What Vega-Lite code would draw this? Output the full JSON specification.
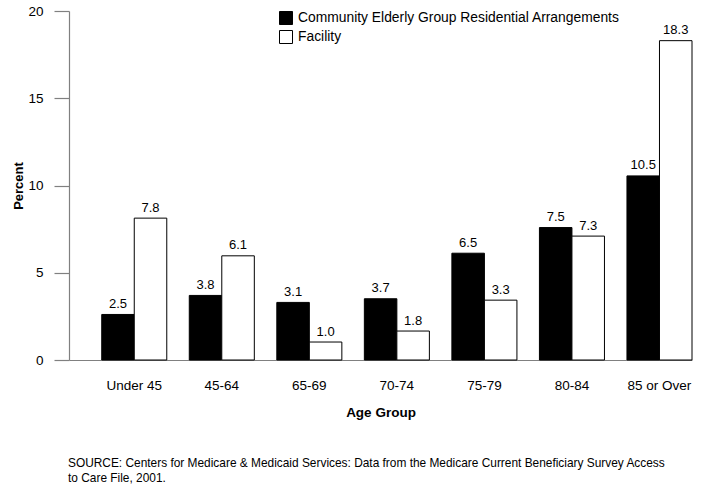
{
  "$schema": "https://vega.github.io/schema/vega-lite/v6.json",
  "width": 623,
  "height": 349,
  "autosize": {"type": "none"},
  "padding": {"left": 69, "top": 11, "right": 10, "bottom": 129},
  "background": "white",
  "config": {
    "view": {"stroke": null},
    "font": "Liberation Sans"
  },
  "title": {
    "text": ["SOURCE: Centers for Medicare & Medicaid Services: Data from the Medicare Current Beneficiary Survey Access", "to Care File, 2001."],
    "orient": "bottom",
    "anchor": "start",
    "frame": "group",
    "font": "Liberation Sans",
    "fontSize": 11.9,
    "fontWeight": "normal",
    "color": "black",
    "lineHeight": 15,
    "offset": 39,
    "dx": -1
  },
  "data": {
    "values": [
      {"age": "Under 45", "series": "Community Elderly Group Residential Arrangements", "value": 2.61, "label": "2.5"},
      {"age": "Under 45", "series": "Facility", "value": 8.13, "label": "7.8"},
      {"age": "45-64", "series": "Community Elderly Group Residential Arrangements", "value": 3.70, "label": "3.8"},
      {"age": "45-64", "series": "Facility", "value": 5.97, "label": "6.1"},
      {"age": "65-69", "series": "Community Elderly Group Residential Arrangements", "value": 3.30, "label": "3.1"},
      {"age": "65-69", "series": "Facility", "value": 1.03, "label": "1.0"},
      {"age": "70-74", "series": "Community Elderly Group Residential Arrangements", "value": 3.51, "label": "3.7"},
      {"age": "70-74", "series": "Facility", "value": 1.66, "label": "1.8"},
      {"age": "75-79", "series": "Community Elderly Group Residential Arrangements", "value": 6.12, "label": "6.5"},
      {"age": "75-79", "series": "Facility", "value": 3.43, "label": "3.3"},
      {"age": "80-84", "series": "Community Elderly Group Residential Arrangements", "value": 7.59, "label": "7.5"},
      {"age": "80-84", "series": "Facility", "value": 7.10, "label": "7.3"},
      {"age": "85 or Over", "series": "Community Elderly Group Residential Arrangements", "value": 10.55, "label": "10.5"},
      {"age": "85 or Over", "series": "Facility", "value": 18.3, "label": "18.3"}
    ]
  },
  "encoding": {
    "x": {
      "field": "age",
      "type": "nominal",
      "sort": ["Under 45", "45-64", "65-69", "70-74", "75-79", "80-84", "85 or Over"],
      "scale": {"paddingInner": 0.257, "paddingOuter": 0.187, "align": 1},
      "axis": {
        "title": "Age Group",
        "labelAngle": 0,
        "ticks": false,
        "labelPadding": 18,
        "labelFont": "Liberation Sans",
        "labelFontSize": 13.5,
        "labelColor": "black",
        "domainColor": "#808080",
        "domainWidth": 1.2,
        "titleFont": "Liberation Sans",
        "titleFontSize": 13.5,
        "titleFontWeight": "bold",
        "titleColor": "black",
        "titlePadding": 14
      }
    },
    "xOffset": {
      "field": "series",
      "type": "nominal",
      "sort": ["Community Elderly Group Residential Arrangements", "Facility"],
      "scale": {"paddingInner": 0, "paddingOuter": 0}
    },
    "y": {
      "field": "value",
      "type": "quantitative",
      "scale": {"domain": [0, 20], "nice": false},
      "axis": {
        "title": "Percent",
        "values": [0, 5, 10, 15, 20],
        "grid": false,
        "tickSize": 15,
        "tickColor": "#808080",
        "tickWidth": 1.2,
        "labelPadding": 11,
        "labelFont": "Liberation Sans",
        "labelFontSize": 13.5,
        "labelColor": "black",
        "domainColor": "#808080",
        "domainWidth": 1.2,
        "titleFont": "Liberation Sans",
        "titleFontSize": 13,
        "titleFontWeight": "bold",
        "titleColor": "black",
        "titlePadding": 2
      }
    }
  },
  "layer": [
    {
      "mark": {"type": "bar", "stroke": "black", "strokeWidth": 1},
      "encoding": {
        "color": {
          "field": "series",
          "type": "nominal",
          "sort": ["Community Elderly Group Residential Arrangements", "Facility"],
          "scale": {"domain": ["Community Elderly Group Residential Arrangements", "Facility"], "range": ["black", "white"]},
          "legend": {
            "title": null,
            "orient": "none",
            "legendX": 210,
            "legendY": 0,
            "symbolType": "square",
            "symbolSize": 169,
            "symbolStrokeColor": "black",
            "symbolStrokeWidth": 1,
            "symbolOpacity": 1,
            "labelFont": "Liberation Sans",
            "labelFontSize": 13.85,
            "labelColor": "black",
            "labelOffset": 5,
            "rowPadding": 1,
            "labelLimit": 500
          }
        }
      }
    },
    {
      "mark": {"type": "text", "baseline": "alphabetic", "dy": -6.5, "font": "Liberation Sans", "fontSize": 13, "color": "black"},
      "encoding": {
        "text": {"field": "label", "type": "nominal"}
      }
    }
  ]
}
